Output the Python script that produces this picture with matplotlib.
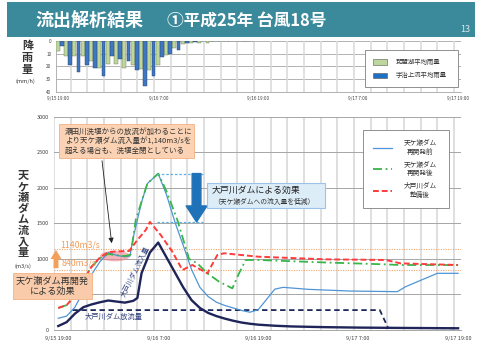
import numpy as np
import matplotlib
matplotlib.use('Agg')
import matplotlib.pyplot as plt
from matplotlib.patches import Rectangle, Ellipse
from matplotlib.lines import Line2D

plt.rcParams['font.family'] = ['Noto Sans CJK JP', 'DejaVu Sans']

# hourly rainfall (mm/h), hour 0 = 9/15 19:00
rain_hours = np.arange(24)
biwako_rain = [8, 12, 12, 12, 16, 21, 18, 18, 21, 19, 22, 23, 19, 11, 6, 2.5,
               1.5, 1.5, 1.5, 0.5, 0.5, 0.5, 0.5, 0.3]
uji_rain = [4, 19, 24, 19, 21, 27, 12, 14, 16, 23, 35, 27, 13, 10, 7, 1.5,
            1, 0.5, 0.3, 0.3, 0.3, 0.3, 0.3, 0.3]

# inflow to Amagase dam (m3/s)
before_hours = [0, 1, 2, 3, 4, 5, 6, 7, 8, 8.6, 9, 10, 10.7, 12, 13, 14, 15, 16, 17,
                18, 19, 20, 21, 22, 23, 24, 25, 26, 27, 30, 35, 40.7, 41.7, 45.5, 48]
before_flow = [165, 195, 320, 540, 780, 960, 1090, 1050, 1030, 1040, 1300, 1800, 2060,
               2200, 1900, 1520, 1190, 850, 600, 470, 390, 345, 310, 275, 250, 285,
               430, 575, 600, 572, 548, 539, 609, 797, 797]

after_hours = [0, 1, 2, 3, 4, 5, 6, 7, 8, 8.7, 9.3, 10.7, 12, 13, 14.3, 15.7, 16.7,
               17.9, 19.3, 20.9, 21.7, 22.5, 24, 32, 39.3, 41, 48]
after_flow = [310, 350, 480, 700, 890, 1010, 1070, 1050, 1040, 1060, 1550, 2060, 2200,
              1950, 1547, 1000, 937, 797, 680, 586, 797, 985, 985, 950, 923, 914, 914]

daido_hours = [0, 1, 2, 3, 4, 5, 6, 7, 8, 8.5, 9.5, 10.5, 11, 12.3, 13.7, 14.9, 16.1,
               17.9, 19.1, 19.9, 24, 32, 39.3, 41.1, 48]
daido_flow = [310, 350, 480, 700, 890, 1020, 1095, 1105, 1110, 1110, 1266, 1406, 1520,
              1336, 1100, 844, 914, 797, 1055, 1079, 1031, 994, 985, 937, 914]

# Daidogawa dam inflow / release
inflow_hours = [0, 1, 2, 3, 4, 5, 6, 7, 8, 9, 9.5, 10, 11, 12, 13, 14, 15, 16, 17, 18,
                19, 20, 21, 22, 23, 24, 26, 28, 32, 36, 40, 44, 48]
inflow = [56, 110, 230, 320, 360, 390, 415, 400, 385, 410, 450, 800, 1090, 1230, 1020,
          810, 600, 420, 310, 240, 195, 160, 130, 105, 88, 75, 60, 50, 40, 34, 30, 27, 24]
release_hours = [1.7, 38.6, 39.6, 48]
release = [280, 280, 30, 24]

limits = [1140, 840]
tick_hours = [0, 12, 24, 36, 48]
tick_labels = ['9/15 19:00', '9/16 7:00', '9/16 19:00', '9/17 7:00', '9/17 19:00']

W, H = 484, 349


def fx(x):
    return x / W


def fy(y):
    return 1 - y / H


def fig_box(fig, x0, y0, x1, y1, fc, ec, lw=0.8, z=2):
    fig.add_artist(Rectangle((fx(x0), fy(y1)), fx(x1) - fx(x0), fy(y0) - fy(y1),
                             transform=fig.transFigure, fc=fc, ec=ec, lw=lw, zorder=z))


fig = plt.figure(figsize=(4.84, 3.49), dpi=100)

# header bar
fig_box(fig, 7, 2, 475, 37, '#3b8a9c', 'none', z=1)
fig.text(fx(35), fy(21), '流出解析結果', color='white', fontsize=13, weight='bold', va='center')
fig.text(fx(167), fy(21), '①平成25年 台風18号', color='white', fontsize=12, weight='bold', va='center')
fig.text(fx(465), fy(29), '13', color='#dce9ee', fontsize=6.5, ha='center', va='center')

# ---- rainfall ----
ax_r = fig.add_axes([fx(55.5), fy(92.3), fx(460.6) - fx(55.5), (92.3 - 40.7) / H])
ax_r.bar(rain_hours - 0.3, biwako_rain, width=0.45, align='edge', color='#bcd69b',
         edgecolor='#6a7a5a', lw=0.3, zorder=3)
ax_r.bar(rain_hours + 0.2, uji_rain, width=0.45, align='edge', color='#3e76c1',
         edgecolor='#2a3f66', lw=0.3, zorder=3)
ax_r.set_xlim(-0.34, 48.3)
ax_r.set_ylim(40, 0)
ax_r.set_yticks([0, 10, 20, 30, 40])
ax_r.set_xticks(tick_hours)
ax_r.set_xticklabels(tick_labels)
ax_r.tick_params(labelsize=3.3, length=0, pad=3, colors='#404040')
for t in np.arange(-0.5, 48, 2):
    ax_r.axvline(t, color='#d9d9d9', lw=1.1, zorder=1)
ax_r.grid(axis='y', color='#a6a6a6', lw=0.6, zorder=1)
ax_r.set_axisbelow(True)
for s in ['top', 'right']:
    ax_r.spines[s].set_visible(False)
ax_r.spines['left'].set_color('#a6a6a6')
ax_r.spines['bottom'].set_color('#a6a6a6')
ax_r.spines['left'].set_linewidth(0.6)
ax_r.spines['bottom'].set_linewidth(0.6)

fig.text(fx(27.5), fy(57.5), '降\n雨\n量', fontsize=8, weight='bold', color='#333333',
         ha='center', va='center', linespacing=0.88)
fig.text(fx(25), fy(81.5), '(mm/h)', fontsize=4, color='#333333', ha='center', va='center')

fig_box(fig, 365, 50, 458, 87, 'white', '#7f7f7f', lw=0.6)
fig_box(fig, 373, 59, 387, 64.5, '#bcd69b', '#555555', lw=0.4, z=3)
fig_box(fig, 373, 72.5, 387, 78, '#1f6fc4', '#555555', lw=0.4, z=3)
fig.text(fx(396), fy(61.7), '琵琶湖平均雨量', fontsize=4.6, color='#333333', va='center')
fig.text(fx(396), fy(75.2), '宇治上流平均雨量', fontsize=4.6, color='#333333', va='center')

# ---- Amagase inflow ----
ax = fig.add_axes([fx(54.1), fy(330), fx(460.6) - fx(54.1), (330 - 116.7) / H])
ax.set_xlim(-0.5, 48.3)
ax.set_ylim(0, 3000)
for t in np.arange(-0.5, 48, 2):
    ax.axvline(t, color='#d9d9d9', lw=1.2, zorder=0)
ax.set_yticks(np.arange(0, 3001, 500))
ax.grid(axis='y', color='#a6a6a6', lw=0.7, zorder=0)
ax.set_axisbelow(True)
ax.set_xticks(tick_hours)
ax.set_xticklabels(tick_labels)
ax.tick_params(labelsize=4, length=0, pad=4, colors='#404040')
for s in ['top', 'right', 'left']:
    ax.spines[s].set_visible(False)
ax.spines['bottom'].set_color('#a6a6a6')
ax.spines['bottom'].set_linewidth(0.7)

for lim in limits:
    ax.axhline(lim, color='#f4a46a', lw=0.8, ls=(0, (1, 1.2)), zorder=1)

ax.add_patch(Ellipse((6.8, 1040), 3.6, 150, color='#ee7b84', alpha=0.55, lw=0, zorder=1.5))

ax.plot(release_hours, release, color='#1f2a5c', lw=1.3, ls=(0, (3, 2)), zorder=3)
ax.plot(inflow_hours, inflow, color='#1f2559', lw=1.7, zorder=3)
ax.plot(before_hours, before_flow, color='#4f95d6', lw=0.9, zorder=4)
ax.plot(after_hours, after_flow, color='#39b54a', lw=1.3, ls=(0, (5, 2, 1, 2)), zorder=4)
ax.plot(daido_hours, daido_flow, color='#ff3b3b', lw=1.4, ls=(0, (3, 1.5)), zorder=5)

# peak reduction by Daidogawa dam
top_peak = max(before_flow)
low_peak = max(daido_flow)
for v in (top_peak, low_peak):
    ax.plot([11.8, 17.4], [v, v], color='#5fb0e0', lw=0.9, ls=(0, (2, 1.5)), zorder=4)
ax.annotate('', xy=(16.6, low_peak), xytext=(16.6, top_peak),
            arrowprops=dict(arrowstyle='simple,head_width=1.3,head_length=1.0,tail_width=0.55',
                            mutation_scale=11.5, color='#1f72b8', shrinkA=0, shrinkB=0), zorder=6)

fig_box(fig, 206.7, 183.3, 325, 208.3, '#dcedf8', '#9dc3e6', lw=0.8, z=4)
fig.text(fx(212), fy(190.8), '大戸川ダムによる効果', fontsize=6.4, color='#222222', va='center', zorder=5)
fig.text(fx(213), fy(201.5), '（天ケ瀬ダムへの流入量を低減）', fontsize=4.9, color='#333333', va='center', zorder=5)

# line labels
ax.text(6.6, 183, '大戸川ダム放流量', fontsize=5.2, color='#2f3f7f', ha='center', va='center', zorder=6)
ax.text(9.3, 816, '大戸川ダム流入量', fontsize=5, color='#2f3f7f', ha='center', va='center',
        rotation=63, zorder=6)
ax.text(0.2, limits[0] + 50, '1140m3/s', fontsize=6.3, color='#f39c5a', va='center', zorder=6)
ax.text(0.4, limits[1] + 100, '840m3/s', fontsize=6.3, color='#f39c5a', va='center', zorder=6)

# note about Seta weir
fig_box(fig, 59, 124, 194, 158, '#fbd3b4', '#f4b183', lw=0.6, z=4)
fig.text(fx(65), fy(141.3),
         '瀬田川洗堰からの放流が加わることに\nより天ケ瀬ダム流入量が1,140m3/sを\n超える場合も、洗堰全閉としている',
         fontsize=5.4, color='#333333', va='center', linespacing=1.25, zorder=5)
fig.add_artist(matplotlib.patches.FancyArrowPatch(
    (fx(101.7), fy(158)), (fx(112), fy(246)), transform=fig.transFigure,
    arrowstyle='-|>,head_width=1.5,head_length=3', color='#222222', lw=0.6, zorder=6))

# Amagase redevelopment effect
fig.add_artist(matplotlib.patches.FancyArrowPatch(
    (fx(56), fy(271)), (fx(56), fy(247)), transform=fig.transFigure,
    arrowstyle='simple,head_width=1.3,head_length=1.1,tail_width=0.6', mutation_scale=6,
    color='#f5a05a', lw=0, zorder=6))
fig_box(fig, 13.3, 273.3, 91.7, 299.3, '#f9cbaa', '#f4b183', lw=0.6, z=4)
fig.text(fx(52.5), fy(286.3), '天ケ瀬ダム再開発\nによる効果', fontsize=6.6, color='#333333',
         ha='center', va='center', linespacing=1.2, zorder=5)

# y label
fig.text(fx(23), fy(214), '\n'.join('天ケ瀬ダム流入量'), fontsize=8, weight='bold', color='#333333',
         ha='center', va='center', linespacing=0.8)
fig.text(fx(23), fy(266), '(m3/s)', fontsize=4, color='#333333', ha='center', va='center')

# legend
fig_box(fig, 363.3, 130, 449, 207.7, 'white', '#7f7f7f', lw=0.6, z=4)
legend_rows = [
    ('#4f95d6', '-', 0.9, 147.7, '天ケ瀬ダム\n再開発前'),
    ('#39b54a', (0, (5, 2, 1, 2)), 1.3, 169, '天ケ瀬ダム\n再開発後'),
    ('#ff3b3b', (0, (3, 1.5)), 1.4, 190.5, '大戸川ダム\n整備後'),
]
for color, ls, lw, y, label in legend_rows:
    fig.add_artist(Line2D([fx(373), fx(392)], [fy(y), fy(y)], transform=fig.transFigure,
                          color=color, ls=ls, lw=lw, zorder=5))
    fig.text(fx(420), fy(y), label, fontsize=4.8, color='#333333', ha='center', va='center',
             linespacing=1.15, zorder=5)

fig.savefig('out.png', dpi=100)
